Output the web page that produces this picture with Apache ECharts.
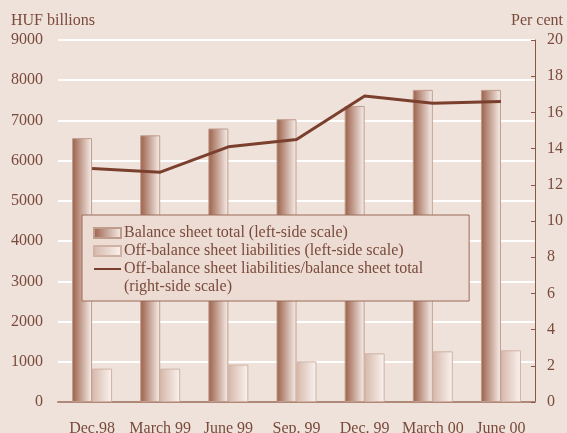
<!DOCTYPE html>
<html>
<head>
<meta charset="utf-8">
<script src="https://cdn.jsdelivr.net/npm/echarts@6/dist/echarts.min.js"></script>
<style>
  html, body { margin: 0; padding: 0; background: #efe2da; }
  #chart { width: 567px; height: 433px; }
</style>
</head>
<body>
<div id="chart"></div>
<script>
// Quarterly figures, HUF billions (left scale) and per cent (right scale)
const categories = ['Dec.98', 'March 99', 'June 99', 'Sep. 99', 'Dec. 99', 'March 00', 'June 00'];
const balanceSheetTotal = [6560, 6630, 6800, 7030, 7360, 7760, 7760];
const offBalanceLiabilities = [830, 830, 930, 1010, 1210, 1260, 1285];
const offBalanceRatio = [12.9, 12.7, 14.1, 14.5, 16.9, 16.5, 16.6];

const seriesNames = [
  'Balance sheet total (left-side scale)',
  'Off-balance sheet liabilities (left-side scale)',
  'Off-balance sheet liabilities/balance sheet total'
];

const FONT = 'Liberation Serif, Times New Roman, serif';
const TEXT = '#7a4a3c';
const FS = 16;

const chart = echarts.init(document.getElementById('chart'), null, { renderer: 'canvas' });

const hGrad = (c0, c1) => new echarts.graphic.LinearGradient(0, 0, 1, 0, [
  { offset: 0, color: c0 },
  { offset: 1, color: c1 }
]);

const plain = v => String(v);

chart.setOption({
  backgroundColor: '#efe2da',
  animation: false,
  textStyle: { fontFamily: FONT, color: TEXT },
  title: [
    { text: 'HUF billions', left: 11, top: 13, padding: 0,
      textStyle: { fontFamily: FONT, fontSize: FS, fontWeight: 'normal', color: TEXT } },
    { text: 'Per cent', right: 4, top: 13, padding: 0,
      textStyle: { fontFamily: FONT, fontSize: FS, fontWeight: 'normal', color: TEXT } }
  ],
  grid: { left: 58, right: 32, top: 40, bottom: 31, containLabel: false, outerBoundsMode: 'none' },
  legend: {
    orient: 'vertical',
    left: 82,
    top: 215,
    itemWidth: 27,
    itemHeight: 10,
    itemGap: 2,
    padding: [10, 46, 24, 11],
    backgroundColor: '#ecdcd4',
    borderColor: '#9a6a58',
    borderWidth: 1,
    z: 10,
    textStyle: { fontFamily: FONT, fontSize: FS, color: TEXT, padding: [0, 0, 0, -2] },
    data: [
      { name: seriesNames[0], icon: 'rect' },
      { name: seriesNames[1], icon: 'rect' },
      { name: seriesNames[2], itemStyle: { opacity: 0 } }
    ]
  },
  graphic: [
    { type: 'text', left: 124, top: 279, z: 100,
      style: { text: '(right-side scale)', font: FS + 'px ' + FONT, fill: TEXT } }
  ],
  xAxis: {
    type: 'category',
    data: categories,
    axisLine: { show: true, lineStyle: { color: '#b08878', width: 2 } },
    axisTick: { show: false },
    axisLabel: { fontFamily: FONT, fontSize: FS, color: TEXT, margin: 19, interval: 0, hideOverlap: false }
  },
  yAxis: [
    {
      type: 'value', min: 0, max: 9000, interval: 1000,
      axisLine: { show: false },
      axisTick: { show: false },
      splitLine: { show: true, lineStyle: { color: '#ffffff', width: 2 } },
      axisLabel: { fontFamily: FONT, fontSize: FS, color: TEXT, margin: 15, formatter: plain }
    },
    {
      type: 'value', min: 0, max: 20, interval: 2,
      position: 'right',
      axisLine: { show: true, lineStyle: { color: '#8a5646', width: 1 } },
      axisTick: { show: true, inside: true, length: 4, lineStyle: { color: '#8a5646' } },
      splitLine: { show: false },
      axisLabel: { fontFamily: FONT, fontSize: FS, color: TEXT, margin: 12, formatter: plain }
    }
  ],
  series: [
    {
      name: seriesNames[0],
      type: 'bar',
      data: balanceSheetTotal,
      barWidth: 20,
      barGap: '0%',
      itemStyle: {
        color: hGrad('#9a5f48', '#f8f0ec'),
        borderColor: '#c09c8c',
        borderWidth: 1
      }
    },
    {
      name: seriesNames[1],
      type: 'bar',
      data: offBalanceLiabilities,
      barWidth: 20,
      barGap: '0%',
      itemStyle: {
        color: hGrad('#d6b8aa', '#faf3f0'),
        borderColor: '#d0b2a4',
        borderWidth: 1
      }
    },
    {
      name: seriesNames[2],
      type: 'line',
      yAxisIndex: 1,
      data: offBalanceRatio,
      symbol: 'none',
      z: 5,
      lineStyle: { color: '#7b3f2e', width: 3 },
      itemStyle: { color: '#7b3f2e' }
    }
  ]
});
</script>
</body>
</html>
